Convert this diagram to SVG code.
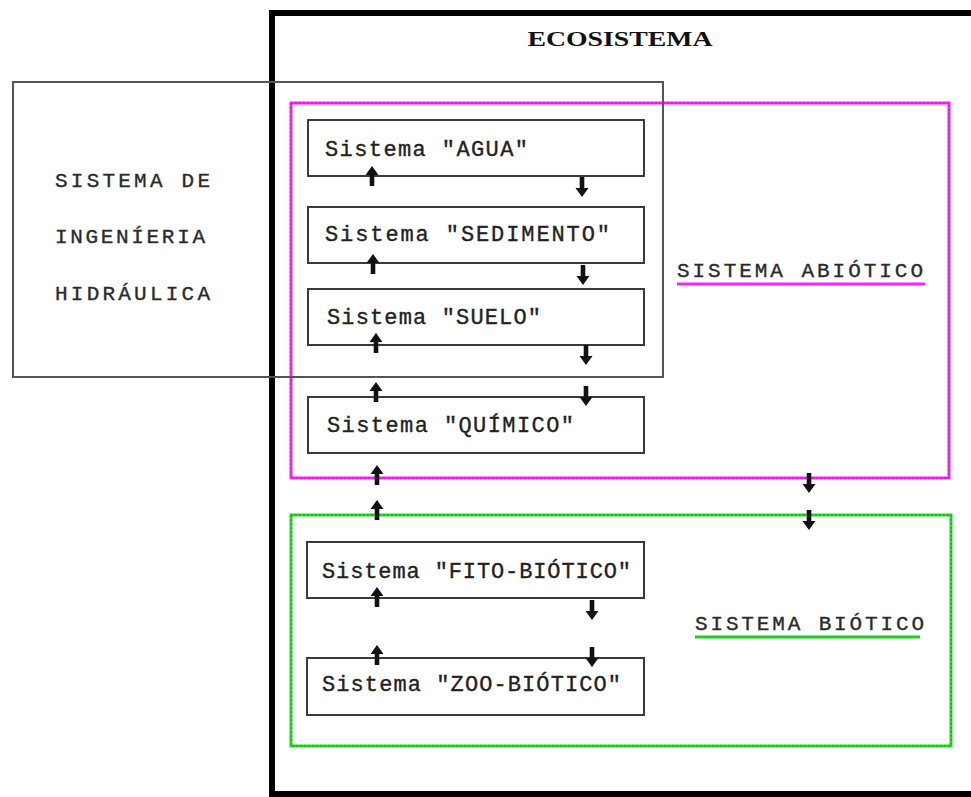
<svg xmlns="http://www.w3.org/2000/svg" width="971" height="797" viewBox="0 0 971 797">
  <style>
    .sys { fill: none; stroke: #3a3a3a; stroke-width: 2; }
    .box-label { font-family: "Liberation Mono", "DejaVu Sans Mono", monospace; font-size: 22px; fill: #222; stroke: #222; stroke-width: 0.35; }
    .caps { font-family: "Liberation Mono", "DejaVu Sans Mono", monospace; font-size: 21px; fill: #2a2a2a; stroke: #2a2a2a; stroke-width: 0.35; }
    .title { font-family: "Liberation Serif", "DejaVu Serif", serif; font-size: 22px; font-weight: bold; fill: #111; }
    .magenta { fill: none; stroke: #ff22ff; stroke-width: 3; }
    .green { fill: none; stroke: #22dd22; stroke-width: 3; }
    .dots { fill: none; stroke: #333; stroke-width: 1; stroke-dasharray: 1.5 2.5; opacity: 0.6; }
    .arrow { fill: #111; }
  </style>
  <defs>
    <!-- up arrow, tip at origin, 20px long -->
    <path id="up" d="M0,0 L6.5,9 L2.3,9 L2.3,20 L-2.3,20 L-2.3,9 L-6.5,9 Z"/>
    <!-- down arrow, tip at origin, 20px long -->
    <path id="down" d="M0,0 L6.5,-9 L2.3,-9 L2.3,-20 L-2.3,-20 L-2.3,-9 L-6.5,-9 Z"/>
  </defs>

  <rect width="971" height="797" fill="#fff"/>

  <!-- ecosystem frame -->
  <g id="ecosistema">
    <path d="M974,13 L272,13 L272,800" fill="none" stroke="#000" stroke-width="6"/>
    <path d="M272,794 L974,794" fill="none" stroke="#000" stroke-width="6"/>
    <text class="title" x="620" y="46" text-anchor="middle" textLength="185" lengthAdjust="spacingAndGlyphs">ECOSISTEMA</text>
  </g>

  <!-- abiotic subsystem -->
  <g id="sistema-abiotico">
    <rect class="magenta" x="291" y="103" width="658" height="375"/>
    <rect class="dots" x="291" y="103" width="658" height="375" stroke="#900090"/>
    <text class="caps" x="677" y="277" textLength="246" lengthAdjust="spacing">SISTEMA ABIÓTICO</text>
    <line x1="677" y1="284" x2="925" y2="284" stroke="#ff22ff" stroke-width="3"/>
  </g>

  <!-- biotic subsystem -->
  <g id="sistema-biotico">
    <rect class="green" x="291" y="515" width="660" height="231"/>
    <rect class="dots" x="291" y="515" width="660" height="231"/>
    <text class="caps" x="695" y="630" textLength="229" lengthAdjust="spacing">SISTEMA BIÓTICO</text>
    <line x1="695" y1="637" x2="920" y2="637" stroke="#22cc22" stroke-width="3"/>
  </g>

  <!-- hydraulic engineering system -->
  <g id="ingenieria-hidraulica">
    <rect x="13" y="82" width="650" height="295" fill="none" stroke="#555" stroke-width="2"/>
    <text class="caps" x="55" y="187" textLength="155" lengthAdjust="spacing">SISTEMA DE</text>
    <text class="caps" x="55" y="243" textLength="150" lengthAdjust="spacing">INGENÍERIA</text>
    <text class="caps" x="55" y="300" textLength="155" lengthAdjust="spacing">HIDRÁULICA</text>
  </g>

  <g id="agua">
    <rect class="sys" x="308" y="120" width="336" height="56"/>
    <text class="box-label" x="325" y="156" textLength="203" lengthAdjust="spacing">Sistema "AGUA"</text>
  </g>
  <g id="sedimento">
    <rect class="sys" x="308" y="207" width="336" height="56"/>
    <text class="box-label" x="325" y="241" textLength="285" lengthAdjust="spacing">Sistema "SEDIMENTO"</text>
  </g>
  <g id="suelo">
    <rect class="sys" x="308" y="289" width="336" height="56"/>
    <text class="box-label" x="327" y="324" textLength="214" lengthAdjust="spacing">Sistema "SUELO"</text>
  </g>
  <g id="quimico">
    <rect class="sys" x="308" y="397" width="336" height="56"/>
    <text class="box-label" x="327" y="432" textLength="247" lengthAdjust="spacing">Sistema "QUÍMICO"</text>
  </g>
  <g id="fito-biotico">
    <rect class="sys" x="307" y="542" width="337" height="56"/>
    <text class="box-label" x="322" y="578" textLength="309" lengthAdjust="spacing">Sistema "FITO-BIÓTICO"</text>
  </g>
  <g id="zoo-biotico">
    <rect class="sys" x="307" y="658" width="337" height="57"/>
    <text class="box-label" x="322" y="691" textLength="299" lengthAdjust="spacing">Sistema "ZOO-BIÓTICO"</text>
  </g>

  <!-- exchange arrows between systems -->
  <g id="connectors" class="arrow">
    <use href="#up" x="372" y="166"/>
    <use href="#up" x="373" y="254"/>
    <use href="#up" x="376" y="333"/>
    <use href="#up" x="376" y="382"/>
    <use href="#up" x="377" y="465"/>
    <use href="#up" x="377" y="500"/>
    <use href="#up" x="377" y="587"/>
    <use href="#up" x="377" y="645"/>
    <use href="#down" x="582" y="197"/>
    <use href="#down" x="583" y="285"/>
    <use href="#down" x="586" y="365"/>
    <use href="#down" x="586" y="406"/>
    <use href="#down" x="592" y="620"/>
    <use href="#down" x="592" y="667"/>
    <use href="#down" x="809" y="493"/>
    <use href="#down" x="809" y="530"/>
  </g>
</svg>
